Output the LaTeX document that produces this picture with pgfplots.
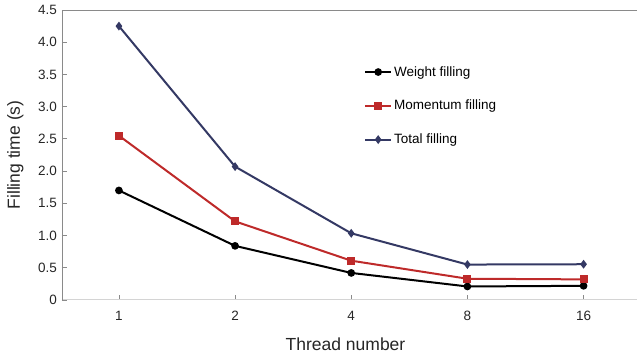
\documentclass[border=0pt]{standalone}
\usepackage{pgfplots}
\pgfplotsset{compat=1.18}
\usepackage{fontspec}
\setmainfont{Liberation Sans}
\definecolor{cred}{HTML}{BE2A2A}
\definecolor{cnavy}{HTML}{343964}
\definecolor{spine}{HTML}{8A8A8A}
\definecolor{bline}{HTML}{D4D4D4}
\begin{document}
\begin{tikzpicture}
\path[use as bounding box] (-62pt,-58pt) rectangle (575pt,300pt);
\begin{axis}[
  scale only axis,
  width=575pt, height=290pt,
  xmin=-0.49, xmax=4.46,
  ymin=0, ymax=4.5,
  axis line style={draw=none},
  xtick={0,1,2,3,4},
  xticklabels={1,2,4,8,16},
  ytick={0,0.5,1,1.5,2,2.5,3,3.5,4,4.5},
  yticklabels={0,0.5,1.0,1.5,2.0,2.5,3.0,3.5,4.0,4.5},
  xtick pos=bottom, ytick pos=left,
  tick align=inside,
  major tick length=5pt,
  tick style={spine, line width=0.8pt},
  ticklabel style={font=\fontsize{13.5}{15}\selectfont, text=black!85},
  x tick label style={yshift=-8pt},
  y tick label style={xshift=-1.5pt},
  xlabel={Thread number},
  ylabel={Filling time (s)},
  label style={font=\fontsize{17.5}{20}\selectfont, text=black!85},
  xlabel style={at={(axis description cs:0.5,0)}, anchor=base, yshift=-51pt, xshift=-4pt},
  ylabel style={at={(axis description cs:0,0.5)}, anchor=base, yshift=42pt},
  legend style={draw=none, fill=none, at={(axis description cs:0.52,0.82)}, anchor=north west,
    font=\fontsize{13.5}{15}\selectfont, row sep=18.5pt,
    nodes={inner sep=2pt}},
  legend cell align=left,
  legend image code/.code={\draw[mark repeat=2,mark phase=2,#1] plot coordinates {(0pt,0pt)(13pt,0pt)(26pt,0pt)};},
]
\draw[bline, line width=1.3pt] (rel axis cs:0,0) -- (rel axis cs:1,0);
\draw[spine, line width=0.8pt] (rel axis cs:0,0) -- (rel axis cs:0,1) -- (rel axis cs:1,1);
\addplot[black, line width=2pt, mark=*, mark size=2.8pt] coordinates {(0,1.70) (1,0.84) (2,0.42) (3,0.21) (4,0.22)};
\addlegendentry{Weight filling}
\addplot[cred, line width=2pt, mark=square*, mark size=3pt] coordinates {(0,2.55) (1,1.22) (2,0.61) (3,0.33) (4,0.32)};
\addlegendentry{Momentum filling}
\addplot[cnavy, line width=2pt, mark=diamond*, mark size=2.8pt] coordinates {(0,4.25) (1,2.07) (2,1.035) (3,0.55) (4,0.555)};
\addlegendentry{Total filling}
\end{axis}
\end{tikzpicture}
\end{document}
